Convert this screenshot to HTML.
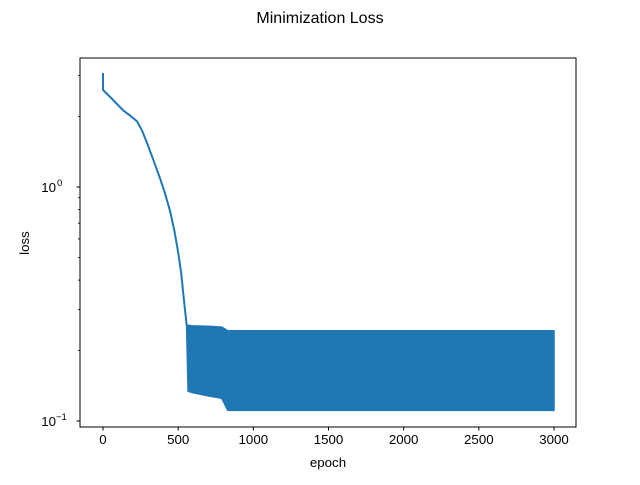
<!DOCTYPE html>
<html><head><meta charset="utf-8"><style>
body{margin:0;background:#fff}
svg{font-family:"Liberation Sans","DejaVu Sans",sans-serif}
</style></head><body>
<svg id="chart" width="640" height="480" xmlns="http://www.w3.org/2000/svg">
<rect width="640" height="480" fill="#fff"/>
<text x="320" y="23" text-anchor="middle" font-size="16">Minimization Loss</text>
<g id="plot"></g>
<g id="axes"></g>
<text x="328" y="467" text-anchor="middle" font-size="13.3">epoch</text>
<text transform="translate(29,243) rotate(-90)" text-anchor="middle" font-size="13.3">loss</text>
</svg>
<script>
const lineEpochs=[0,0,60,133,180,226,260,300,340,379,410,446,475,499,520,532,545,552,556];
const lineLoss=[3.07,2.6,2.38,2.13,2.02,1.91,1.74,1.5,1.28,1.09,0.95,0.79,0.65,0.53,0.43,0.36,0.3,0.275,0.257];
const bandEpochs=[556,600,700,790,830,1000,2000,3000];
const bandUpper=[0.257,0.255,0.254,0.252,0.243,0.243,0.243,0.243];
const bandLower=[0.134,0.132,0.128,0.125,0.111,0.111,0.111,0.111];
const xTicks=[0,500,1000,1500,2000,2500,3000];
const yMajor=[0.1,1];
const yMajorExp=["−1","0"];
const yMinor=[0.2,0.3,0.4,0.5,0.6,0.7,0.8,0.9,2,3];

const L=80,R=576,T=58,B=427;
const sx=e=>103+e*(554-103)/3000;
const sy=v=>187-Math.log10(v)*234;
const NS="http://www.w3.org/2000/svg";
function mk(tag,attrs,parent){const el=document.createElementNS(NS,tag);for(const k in attrs)el.setAttribute(k,attrs[k]);parent.appendChild(el);return el;}
const plot=document.getElementById('plot'),axes=document.getElementById('axes');
const C="#1f77b4";
let pts=bandEpochs.map((e,i)=>sx(e)+","+sy(bandUpper[i]));
for(let i=bandEpochs.length-1;i>=0;i--)pts.push(sx(bandEpochs[i]+(i===0?10:0))+","+sy(bandLower[i]));
const band=mk('polygon',{points:pts.join(' '),fill:C,stroke:C,'stroke-width':1.5,'stroke-linejoin':'round'},plot);


const line=mk('polyline',{points:lineEpochs.map((e,i)=>sx(e)+","+sy(lineLoss[i])).join(' '),fill:'none',stroke:C,'stroke-width':2,'stroke-linejoin':'round'},plot);


const fr=mk('rect',{x:L,y:T,width:R-L,height:B-T,fill:'none',stroke:'#000','stroke-width':1},axes);


xTicks.forEach(t=>{const x=sx(t);
 mk('line',{x1:x,x2:x,y1:B,y2:B+3.5,stroke:'#000'},axes);
 const tx=mk('text',{x:x,y:B+17,'text-anchor':'middle','font-size':13.3},axes);tx.textContent=t;
 
 });
yMajor.forEach((v,i)=>{const y=sy(v);
 mk('line',{x1:L-3.5,x2:L,y1:y,y2:y,stroke:'#000'},axes);
 const tx=mk('text',{x:L-24,y:y+5,'text-anchor':'end','font-size':13.3},axes);tx.textContent="10";
 
 
 const sp=mk('text',{x:L-24,y:y-1,'text-anchor':'start','font-size':9.5},axes);sp.textContent=yMajorExp[i];
 if(yMajorExp[i]==="0")sp.setAttribute('x',L-23);});
yMinor.forEach(v=>{const y=sy(v);mk('line',{x1:L-2,x2:L,y1:y,y2:y,stroke:'#000','stroke-width':0.8},axes);});
</script>
</body></html>
